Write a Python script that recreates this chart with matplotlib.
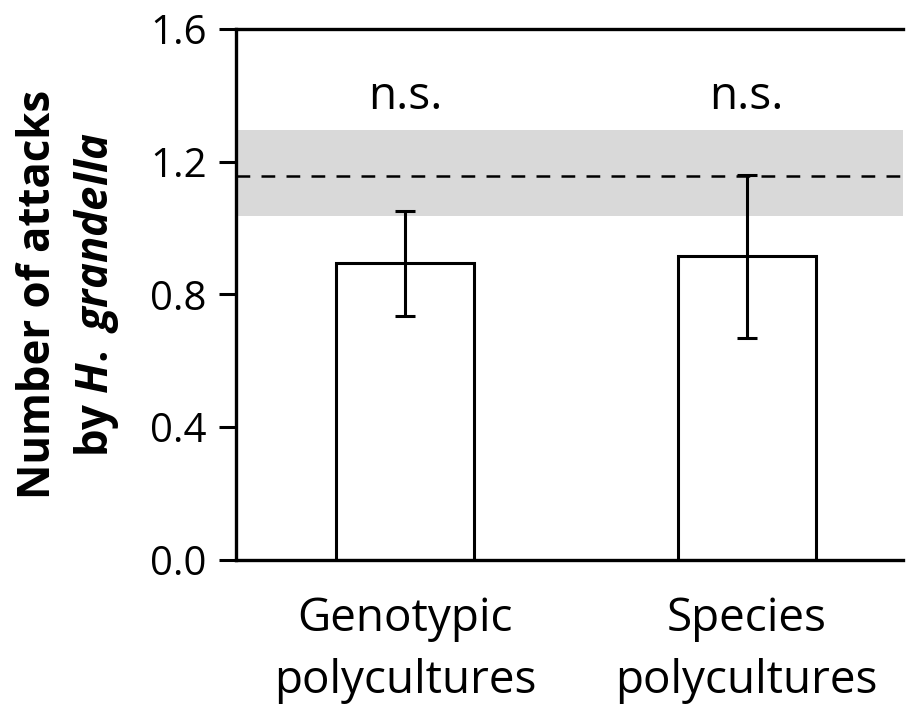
import matplotlib
matplotlib.use("Agg")
import matplotlib.pyplot as plt
import numpy as np

categories = ["Genotypic\npolycultures", "Species\npolycultures"]
means = [0.895, 0.916]
err_low = [0.735, 0.669]
err_high = [1.052, 1.160]
ref_mean = 1.157
ref_low = 1.036
ref_high = 1.296
annotations = ["n.s.", "n.s."]
yticks = [0.0, 0.4, 0.8, 1.2, 1.6]

plt.rcParams['font.family'] = ['Open Sans', 'DejaVu Sans']
plt.rcParams['mathtext.fontset'] = 'custom'
plt.rcParams['mathtext.rm'] = 'Open Sans:bold'
plt.rcParams['mathtext.bf'] = 'Open Sans:bold'
plt.rcParams['mathtext.it'] = 'Open Sans:italic:bold'
plt.rcParams['mathtext.bfit'] = 'Open Sans:italic:bold'

fig = plt.figure(figsize=(9.07, 7.14), dpi=100)
ax = fig.add_axes([0.260, 0.2157, 0.7356, 0.7437])

x = np.arange(len(categories))
ax.axhspan(ref_low, ref_high, color='#d9d9d9', lw=0, zorder=0)
ax.axhline(ref_mean, color='black', lw=1.8, ls=(0, (5.5, 4.5)), zorder=1)

yerr = [np.array(means) - np.array(err_low), np.array(err_high) - np.array(means)]
ax.bar(x, means, width=0.404, color='white', edgecolor='black', linewidth=2.2, zorder=2)
ax.errorbar(x, means, yerr=yerr, fmt='none', ecolor='black', elinewidth=2.2,
            capsize=7, capthick=2.2, zorder=3)

for xi, t in zip(x, annotations):
    ax.text(xi, 1.395, t, ha='center', va='center', fontsize=33)

ax.set_xlim(-0.495, 1.458)
ax.set_ylim(0, 1.6)
ax.set_yticks(yticks)
ax.set_yticklabels([f"{v:.1f}" for v in yticks], fontsize=29)
ax.set_xticks(x)
ax.set_xticklabels(categories, fontsize=33, linespacing=1.45)
ax.tick_params(axis='y', direction='out', length=12, width=2.2, pad=9)
ax.tick_params(axis='x', length=0, pad=26)

for s in ['left', 'top', 'bottom']:
    ax.spines[s].set_linewidth(2.4)
ax.spines['right'].set_visible(False)

ax.set_ylabel("Number of attacks\n" + r"by $\mathit{H.}$ $\mathit{grandella}$",
              fontsize=31.5, fontweight='bold', linespacing=1.3, labelpad=21)

fig.savefig("out.png", dpi=100)
